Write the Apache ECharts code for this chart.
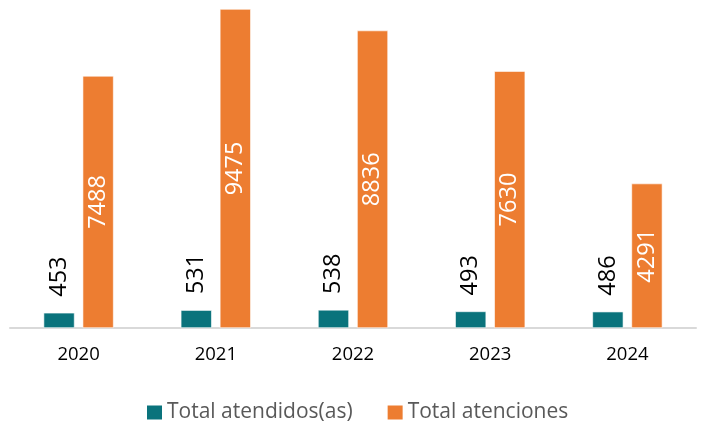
<!DOCTYPE html>
<html>
<head>
<meta charset="utf-8">
<script src="https://cdn.jsdelivr.net/npm/echarts@6/dist/echarts.min.js"></script>
<style>
html,body{margin:0;padding:0;background:#fff;}
#chart{width:702px;height:421px;}
</style>
</head>
<body>
<div id="chart"></div>
<script>
var categories = ['2020', '2021', '2022', '2023', '2024'];
var atendidos = [453, 531, 538, 493, 486];
var atenciones = [7488, 9475, 8836, 7630, 4291];
var seriesNames = ['Total atendidos(as)', 'Total atenciones'];

var FONT = '"Open Sans", "Liberation Sans", sans-serif';
var chart = echarts.init(document.getElementById('chart'), null, {renderer: 'canvas'});
chart.setOption({
  animation: false,
  textStyle: {fontFamily: FONT},
  color: ['#0A737C', '#ED7D31'],
  legend: {
    data: seriesNames,
    left: 142,
    top: 397,
    itemWidth: 15,
    itemHeight: 14,
    itemGap: 35,
    icon: 'rect',
    itemStyle: {borderWidth: 0},
    textStyle: {fontSize: 21, color: '#595959', fontFamily: FONT}
  },
  grid: {left: 10, right: 6, top: 9, bottom: 93, containLabel: false},
  xAxis: {
    type: 'category',
    data: categories,
    axisLine: {show: true, lineStyle: {color: '#D9D9D9', width: 2}},
    axisTick: {show: false},
    axisLabel: {fontSize: 18.5, color: '#000', margin: 17, fontFamily: FONT}
  },
  yAxis: {
    type: 'value',
    min: 0,
    max: 9475,
    show: false,
    splitLine: {show: false}
  },
  series: [
    {
      name: seriesNames[0],
      type: 'bar',
      data: atendidos,
      barWidth: 31,
      barGap: '26%',
      itemStyle: {color: '#0A737C', borderColor: '#ffffff', borderWidth: 0.6},
      label: {
        show: true,
        position: 'top',
        distance: 16,
        rotate: 90,
        align: 'left',
        verticalAlign: 'middle',
        fontSize: 23.5,
        color: '#000',
        fontFamily: FONT
      }
    },
    {
      name: seriesNames[1],
      type: 'bar',
      data: atenciones,
      barWidth: 31,
      itemStyle: {color: '#ED7D31', borderColor: '#ffffff', borderWidth: 0.6},
      label: {
        show: true,
        position: 'inside',
        rotate: 90,
        align: 'center',
        verticalAlign: 'middle',
        fontSize: 23.5,
        color: '#fff',
        fontFamily: FONT
      }
    }
  ]
});
</script>
</body>
</html>
